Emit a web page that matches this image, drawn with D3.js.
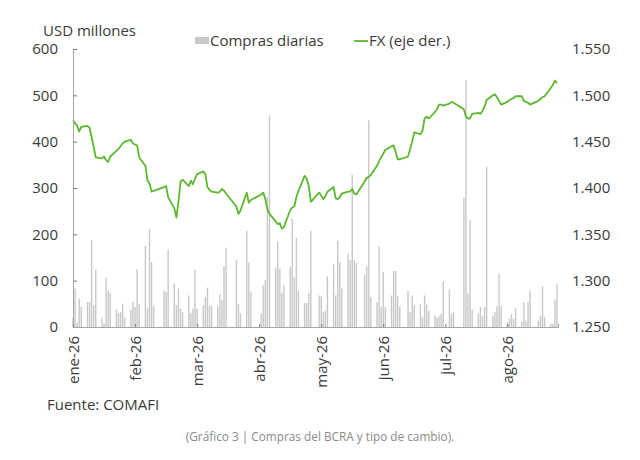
<!DOCTYPE html>
<html>
<head>
<meta charset="utf-8">
<script src="https://cdn.jsdelivr.net/npm/d3@7"></script>
<style>
  body { margin: 0; background: #fff; }
  svg text { font-family: "Open Sans", sans-serif; fill: #3a3a3a; }
</style>
</head>
<body>
<div class="graph"></div>
<script>
// Data: trading days from 5 Jan 2026 to 27 Aug 2026 (weekdays minus market holidays)
var firstDay = "2026-01-05", lastDay = "2026-08-27";
var holidays = ["2026-02-16","2026-02-17","2026-03-23","2026-03-24","2026-04-02","2026-04-03",
                "2026-05-01","2026-05-25","2026-06-15","2026-07-09","2026-07-10","2026-08-17"];

// Daily BCRA purchases, USD millions (one value per trading day)
var compras = [
  18, 83, 10, 61, 43,   54, 54, 187, 47, 124,   20, 7, 107, 79, 74,   38, 30, 32, 50, 20,      // ene
  37, 55, 43, 125, 49,  175, 40, 212, 140, 45,  79, 76, 167,          94, 47, 83, 40, 32,      // feb
  68, 30, 40, 124, 40,  47, 65, 85, 45, 45,     45, 71, 58, 131, 171, 145, 50, 29,            // mar
  207, 139, 76,         29, 90, 101, 281, 457,  128, 184, 126, 74, 91, 130, 234, 107, 193, 78, // abr
  52, 52, 73, 207,      68, 66, 32, 35, 109,    135, 68, 186, 140, 83, 158, 144, 329, 144, 138,// may
  112, 131, 446, 65,    54, 174, 43, 119, 43,   68, 121, 121, 66, 43, 78, 32, 68, 47,         // jun
  49, 22, 68, 49, 35,   25, 20, 23, 28, 99,     81, 29, 32,           279, 533, 72, 230, 37,   // jul
  30, 43, 23, 43, 346,  23, 32, 45, 115, 45,    11, 18, 27, 18, 40,   11, 54, 14, 54, 78,      // ago
  14, 23, 88, 22,       7, 7, 59, 92
];

// FX rate, ARS per USD (right axis)
var fx = [
  1473, 1470, 1467, 1461, 1466,  1467, 1465, 1455, 1444, 1433,  1432, 1434, 1430, 1428, 1434,
  1440, 1442, 1445, 1448, 1450,  1452, 1448, 1447, 1446, 1433,  1424, 1408, 1405, 1396, 1397,
  1401, 1402, 1390,              1378, 1368, 1385, 1407, 1409,  1402, 1408, 1404, 1410, 1415,
  1418, 1415, 1401, 1398, 1396,  1395, 1396, 1399, 1397, 1394,  1380, 1372, 1376,
  1395, 1384, 1387,              1393, 1395, 1388, 1377, 1372,  1364, 1361, 1362, 1356, 1358,
  1376, 1379, 1380, 1390, 1397,  1413, 1410, 1402, 1385,        1395, 1392, 1388, 1391, 1396,
  1401, 1389, 1388, 1390, 1394,  1396, 1396, 1399, 1394, 1393,  1407, 1411, 1412, 1414,
  1424, 1429, 1433, 1437, 1441,  1445, 1446, 1439, 1431, 1431,  1434, 1442, 1450, 1460,
  1458, 1462, 1475, 1477, 1475,  1482, 1485, 1490, 1490, 1489,  1491, 1493, 1492,
  1485, 1477, 1475, 1475, 1480,  1481, 1480, 1483, 1488, 1495,  1500, 1501, 1498, 1494, 1490,
  1493, 1495, 1496, 1497, 1499,  1499, 1494, 1493, 1492, 1490,  1494, 1496, 1498, 1499,
  1508, 1511, 1516, 1513
];

var leftTicks = [0, 100, 200, 300, 400, 500, 600];
var rightTicks = [1250, 1300, 1350, 1400, 1450, 1500, 1550];
var xTickDates = ["2026-01-05","2026-02-04","2026-03-06","2026-04-05","2026-05-05","2026-06-04","2026-07-04","2026-08-03"];

// Build the trading-day calendar
var parse = d3.utcParse("%Y-%m-%d"), fmtKey = d3.utcFormat("%Y-%m-%d");
var days = d3.utcDays(parse(firstDay), d3.utcDay.offset(parse(lastDay), 1))
  .filter(function(d) { var w = d.getUTCDay(); return w > 0 && w < 6 && holidays.indexOf(fmtKey(d)) < 0; });

var data = days.map(function(d, i) { return {date: d, compras: compras[i], fx: fx[i]}; });

// Configuration
var W = 640, H = 460;
var margin = {top: 49, right: 82, bottom: 133, left: 73},
    width = W - margin.left - margin.right,
    height = H - margin.top - margin.bottom;
var fontSize = "15px";

var es = d3.timeFormatLocale({
  dateTime: "%x %X", date: "%d/%m/%Y", time: "%H:%M:%S", periods: ["AM", "PM"],
  days: ["domingo","lunes","martes","miércoles","jueves","viernes","sábado"],
  shortDays: ["dom","lun","mar","mié","jue","vie","sáb"],
  months: ["enero","febrero","marzo","abril","mayo","junio","julio","agosto","septiembre","octubre","noviembre","diciembre"],
  shortMonths: ["ene","feb","mar","abr","may","jun","jul","ago","sep","oct","nov","dic"]
});
var num = d3.formatLocale({decimal: ",", thousands: ".", grouping: [3], currency: ["$", ""]});

// Scales
var x = d3.scaleUtc()
    .domain([parse(firstDay), d3.utcHour.offset(parse(lastDay), 12)])
    .range([0, width]);
var y = d3.scaleLinear().domain([0, 600]).range([height, 0]);
var y2 = d3.scaleLinear().domain([1250, 1550]).range([height, 0]);

var svg = d3.select(".graph").append("svg")
    .attr("width", W)
    .attr("height", H);
var g = svg.append("g")
    .attr("transform", "translate(" + margin.left + "," + margin.top + ")");

// Bars
var barW = 1.4;
g.selectAll(".bar")
    .data(data)
  .enter().append("rect")
    .attr("class", "bar")
    .attr("x", function(d) { return x(d.date) - barW / 2; })
    .attr("y", function(d) { return y(d.compras); })
    .attr("width", barW)
    .attr("height", function(d) { return height - y(d.compras); })
    .style("fill", "#c8c8c8");

// FX line
var line = d3.line()
    .x(function(d) { return x(d.date); })
    .y(function(d) { return y2(d.fx); });
g.append("path")
    .datum(data)
    .attr("d", line)
    .attr("fill", "none")
    .attr("stroke", "#5cb82f")
    .attr("stroke-width", 1.8)
    .attr("stroke-linejoin", "round");

// Axes
var yAxis = g.append("g")
    .call(d3.axisLeft(y).tickValues(leftTicks).tickSize(-4).tickPadding(15));
var y2Axis = g.append("g")
    .attr("transform", "translate(" + width + ",0)")
    .call(d3.axisRight(y2).tickValues(rightTicks).tickSize(0).tickPadding(14)
      .tickFormat(function(v) { return num.format(",")(v); }));
y2Axis.select(".domain").remove();

var xAxis = g.append("g")
    .attr("transform", "translate(0," + height + ")")
    .call(d3.axisBottom(x).tickValues(xTickDates.map(parse)).tickSize(-3)
      .tickFormat(es.utcFormat("%b-%y")));
xAxis.selectAll("text")
    .attr("transform", "rotate(-90)")
    .attr("x", -9)
    .attr("y", 0)
    .attr("dy", "0.35em")
    .style("text-anchor", "end");

[yAxis, y2Axis, xAxis].forEach(function(a) {
  a.selectAll("text").style("font-size", fontSize).style("font-family", "'Open Sans', sans-serif").attr("fill", "#3a3a3a");
  a.selectAll(".domain").attr("stroke", "#a6a6a6");
  a.selectAll(".tick line").attr("stroke", "#7a7a7a");
});

// Titles and legend
svg.append("text").attr("x", 43).attr("y", 36).style("font-size", fontSize).text("USD millones");

svg.append("rect").attr("x", 195).attr("y", 37).attr("width", 14).attr("height", 7).style("fill", "#c8c8c8");
svg.append("text").attr("x", 210).attr("y", 46).style("font-size", fontSize).text("Compras diarias");
svg.append("line").attr("x1", 354).attr("x2", 368).attr("y1", 41).attr("y2", 41)
    .attr("stroke", "#5cb82f").attr("stroke-width", 1.8);
svg.append("text").attr("x", 369).attr("y", 46).style("font-size", fontSize).text("FX (eje der.)");

svg.append("text").attr("x", 47).attr("y", 410).style("font-size", fontSize).text("Fuente: COMAFI");
svg.append("text").attr("x", 320).attr("y", 441).attr("text-anchor", "middle")
    .style("font-size", "11.8px").style("fill", "#8a8a8a")
    .text("(Gráfico 3 | Compras del BCRA y tipo de cambio).");
</script>
</body>
</html>
